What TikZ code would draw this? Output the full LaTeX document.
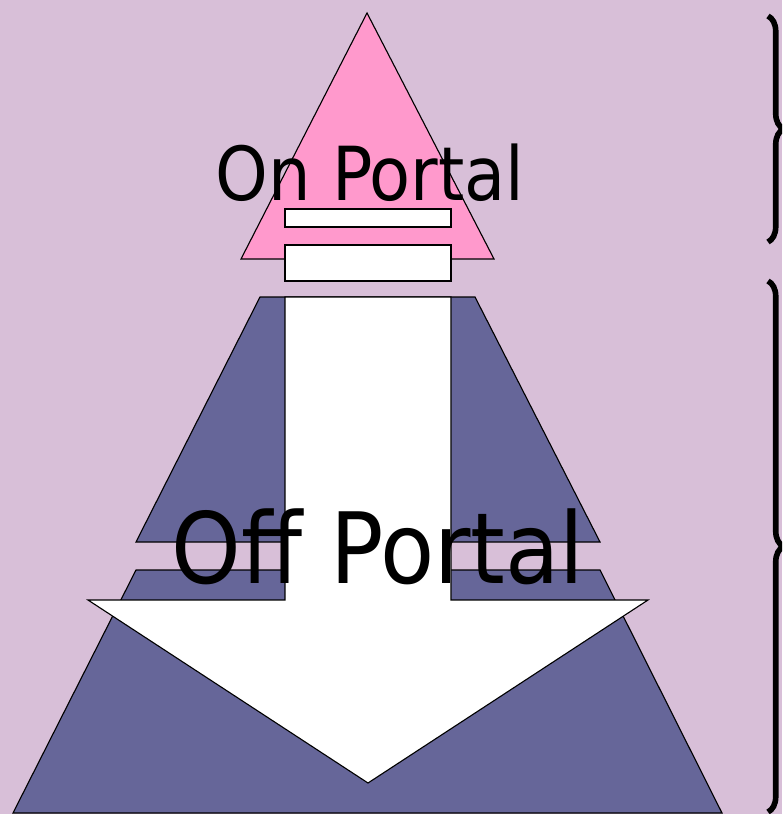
\documentclass[tikz,border=0pt]{standalone}
\usepackage{fontspec}
\newfontfamily\portalfont{DejaVu Sans Condensed}
\usetikzlibrary{decorations.pathreplacing}
\definecolor{bgcolor}{RGB}{216,191,216}
\definecolor{pinkcolor}{RGB}{255,153,204}
\definecolor{slatecolor}{RGB}{102,102,153}

\begin{document}
\begin{tikzpicture}[x=0.025cm, y=-0.025cm, line join=miter]
    \tikzset{
        outline/.style={draw=black, line width=0.8pt},
        bigbrace/.style={decorate, decoration={brace, amplitude=11pt}, line width=4pt},
        portaltext/.style={inner sep=0pt, anchor=base, text=black}
    }
    % Background
    \useasboundingbox (0,0) rectangle (782,814);
    \fill[bgcolor] (0,0) rectangle (782,814);
    \clip (0,0) rectangle (782,814);

    % Lower and upper trapezoids
    \fill[slatecolor] (136,570) -- (600,570) -- (722,813) -- (13,813) -- cycle;
    \draw[outline] (136,570) -- (600,570) -- (722,813) -- (13,813) -- cycle;
    \fill[slatecolor] (260,297) -- (475,297) -- (600,542) -- (136,542) -- cycle;
    \draw[outline] (260,297) -- (475,297) -- (600,542) -- (136,542) -- cycle;

    % Big arrow pointing down
    \draw[outline, fill=white] (285,297) -- (451,297) -- (451,600) -- (648,600)
        -- (368,783) -- (88,600) -- (285,600) -- cycle;

    % Pink triangle with its two bars
    \draw[outline, fill=pinkcolor] (367,13) -- (494,259) -- (241,259) -- cycle;
    \draw[outline, fill=white] (285,209) rectangle (451,227);
    \draw[outline, fill=white] (285,245) rectangle (451,281);

    % Braces on the right
    \draw[bigbrace] (768,16) -- (768,242);
    \draw[bigbrace] (768,281) -- (768,812);

    % Labels
    \node[portaltext, font=\portalfont\fontsize{53}{60}\selectfont] (onlabel) at (370,200) {On Portal};
    \node[portaltext, font=\portalfont\fontsize{70}{80}\selectfont] (offlabel) at (378,583) {Off Portal};
\end{tikzpicture}
\end{document}
